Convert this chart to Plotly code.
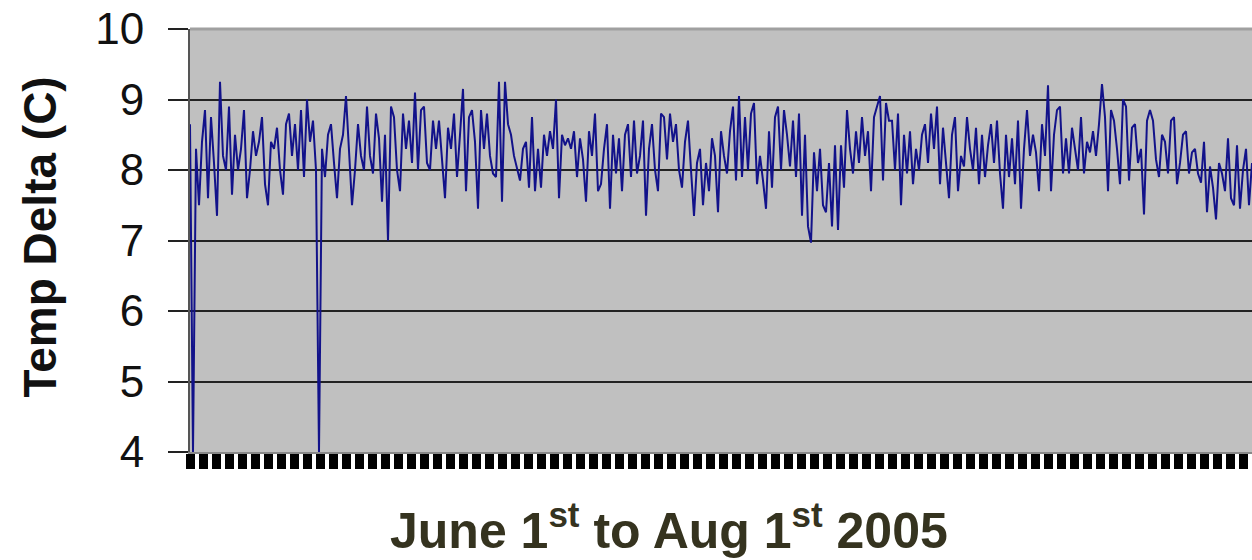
import plotly.graph_objects as go

# Temperature delta readings (C), June 1st to Aug 1st 2005
temp_delta = [
    8.65, 4.0, 8.3, 7.5, 8.4, 8.85, 7.6, 8.75, 8.1, 7.35,
    9.25, 8.2, 8.0, 8.9, 7.65, 8.5, 8.0, 8.3, 8.85, 7.6,
    8.0, 8.55, 8.2, 8.4, 8.75, 7.8, 7.5, 8.4, 8.3, 8.6,
    8.0, 7.65, 8.65, 8.8, 8.2, 8.65, 8.0, 8.85, 7.9, 9.0,
    8.4, 8.7, 8.0, 4.0, 8.3, 7.9, 8.5, 8.65, 8.1, 7.6,
    8.3, 8.5, 9.05, 8.2, 7.5, 8.0, 8.65, 8.2, 8.0,
    8.9, 8.2, 7.95, 8.8, 8.45, 7.55, 8.5, 7.0, 8.9, 8.75,
    8.0, 7.7, 8.8, 8.3, 8.7, 8.1, 9.1, 8.0, 8.85, 8.9,
    8.1, 8.0, 8.7, 8.3, 8.7, 8.2, 7.6, 8.6, 8.3, 8.8,
    7.9, 8.5, 9.15, 7.7, 8.75, 8.85, 8.4, 7.45, 8.85, 8.3,
    8.8, 8.2, 7.95, 7.9, 9.25, 7.55, 9.25, 8.65, 8.5, 8.2,
    8.0, 7.85, 8.3, 8.4, 7.75, 8.75, 7.7, 8.3,
    7.75, 8.5, 8.2, 8.55, 8.3, 9.0, 7.6, 8.5, 8.35, 8.45,
    8.3, 8.55, 7.9, 8.45, 8.15, 7.55, 8.55, 8.2, 8.8, 7.7,
    7.8, 8.3, 8.65, 7.45, 8.5, 7.95, 8.45, 7.7, 8.5, 8.65,
    7.9, 8.7, 7.95, 8.2, 8.7, 7.35, 8.3, 8.65, 8.0, 7.7,
    8.8, 8.75, 8.15, 8.8, 8.4, 8.65, 8.0, 7.75, 8.4, 8.7,
    8.0, 7.35, 8.1, 8.3, 7.5, 8.1, 7.7, 8.45, 8.2,
    7.4, 8.55, 8.2, 7.95, 8.55, 8.9, 7.85, 9.05, 7.9, 8.75,
    8.0, 8.8, 8.95, 7.8, 8.2, 7.85, 7.45, 8.55, 7.75, 8.75,
    8.9, 8.0, 8.85, 8.5, 8.05, 8.7, 7.9, 8.8, 7.35, 8.5,
    7.2, 6.97, 8.25, 7.7, 8.3, 7.5, 7.4, 8.1, 7.2, 8.35,
    7.15, 8.35, 7.75, 8.85, 8.3, 7.95, 8.55, 8.1, 8.75, 8.2,
    8.55, 7.7, 8.75, 8.9, 9.05, 7.85, 8.95, 8.7,
    8.7, 8.0, 8.8, 7.5, 8.5, 7.95, 8.55, 7.8, 8.3, 8.0,
    8.5, 8.65, 8.1, 8.8, 8.3, 8.9, 7.8, 8.6, 8.1, 7.6,
    8.5, 8.75, 7.7, 8.2, 8.05, 8.75, 8.3, 8.0, 8.6, 7.8,
    8.5, 7.9, 8.35, 8.65, 8.1, 8.7, 7.95, 7.45, 8.5, 7.9,
    8.45, 7.8, 8.7, 7.45, 8.3, 8.85, 8.2, 8.5, 8.25, 7.7,
    8.65, 8.2, 9.2, 7.7, 8.5, 8.85, 8.9, 7.95,
    8.45, 7.95, 8.6, 8.3, 8.0, 8.75, 7.95, 8.4, 8.25, 8.55,
    8.2, 8.65, 9.22, 8.75, 7.7, 8.85, 8.7, 8.3, 7.8, 9.0,
    8.9, 7.85, 8.6, 8.65, 8.1, 8.3, 7.37, 8.7, 8.85, 8.7,
    8.15, 7.9, 8.5, 8.4, 7.95, 8.7, 8.75, 7.8, 8.1, 8.5,
    8.55, 7.95, 8.25, 8.3, 7.95, 7.82, 8.4, 7.4, 8.05, 7.75,
    7.3, 8.1, 7.95, 7.7, 8.45, 7.6, 7.5, 8.35, 7.45, 8.0,
    8.3, 7.5, 8.1,
]
reading_index = list(range(len(temp_delta)))

y_ticks = [4, 5, 6, 7, 8, 9, 10]
y_title = "Temp Delta (C)"
x_title = "June 1<sup>st</sup> to Aug 1<sup>st</sup> 2005"

W, H = 1252, 560
ML, MR, MT, MB = 190, 0, 29, 108
PW, PH = W - ML - MR, H - MT - MB

fig = go.Figure()
fig.add_trace(go.Scatter(
    x=reading_index, y=temp_delta, mode="lines",
    line=dict(color="#12128a", width=2.0),
    hoverinfo="skip", showlegend=False,
))

fig.update_layout(
    width=W, height=H,
    margin=dict(l=ML, r=MR, t=MT, b=MB, pad=0),
    paper_bgcolor="white",
    plot_bgcolor="#c0c0c0",
    font=dict(family="Liberation Sans, Arial, sans-serif", color="#111111"),
    showlegend=False,
)

fig.update_xaxes(
    range=[0, len(temp_delta) - 1],
    showgrid=False, zeroline=False,
    showticklabels=False,
    ticks="outside", ticklen=15, tickwidth=9, tickcolor="black",
    tick0=0, dtick=13 / 3.0,
    showline=True, linecolor="#888888", linewidth=2,
)

fig.update_yaxes(
    range=[4, 10],
    tickvals=y_ticks,
    showgrid=True, gridcolor="#222222", gridwidth=2,
    zeroline=False,
    ticks="outside", ticklen=20, tickwidth=2, tickcolor="#222222",
    tickfont=dict(size=44, color="#111111"),
    ticklabelstandoff=15,
    showline=True, linecolor="#555555", linewidth=2,
)

# top border of the plot area
fig.add_shape(type="line", xref="paper", yref="paper", x0=0, x1=1, y0=1, y1=1,
              line=dict(color="#a0a0a0", width=3), layer="above")

fig.add_annotation(
    text=y_title, textangle=-90, showarrow=False,
    xref="paper", yref="paper",
    x=(39 - ML) / PW, y=(H - MB - 237.5) / PH,
    xanchor="center", yanchor="middle",
    font=dict(size=46, color="#111111", family="Liberation Sans, Arial, sans-serif", weight="bold"),
)

fig.add_annotation(
    text=x_title, showarrow=False,
    xref="paper", yref="paper",
    x=(668.5 - ML) / PW, y=-(527 - (H - MB)) / PH,
    xanchor="center", yanchor="middle",
    font=dict(size=50, color="#35331f", family="Liberation Sans, Arial, sans-serif", weight="bold"),
)

fig.write_html(
    "out.html",
    config={"displayModeBar": False},
    post_script="document.body.style.margin='0';document.body.style.overflow='hidden';",
)
